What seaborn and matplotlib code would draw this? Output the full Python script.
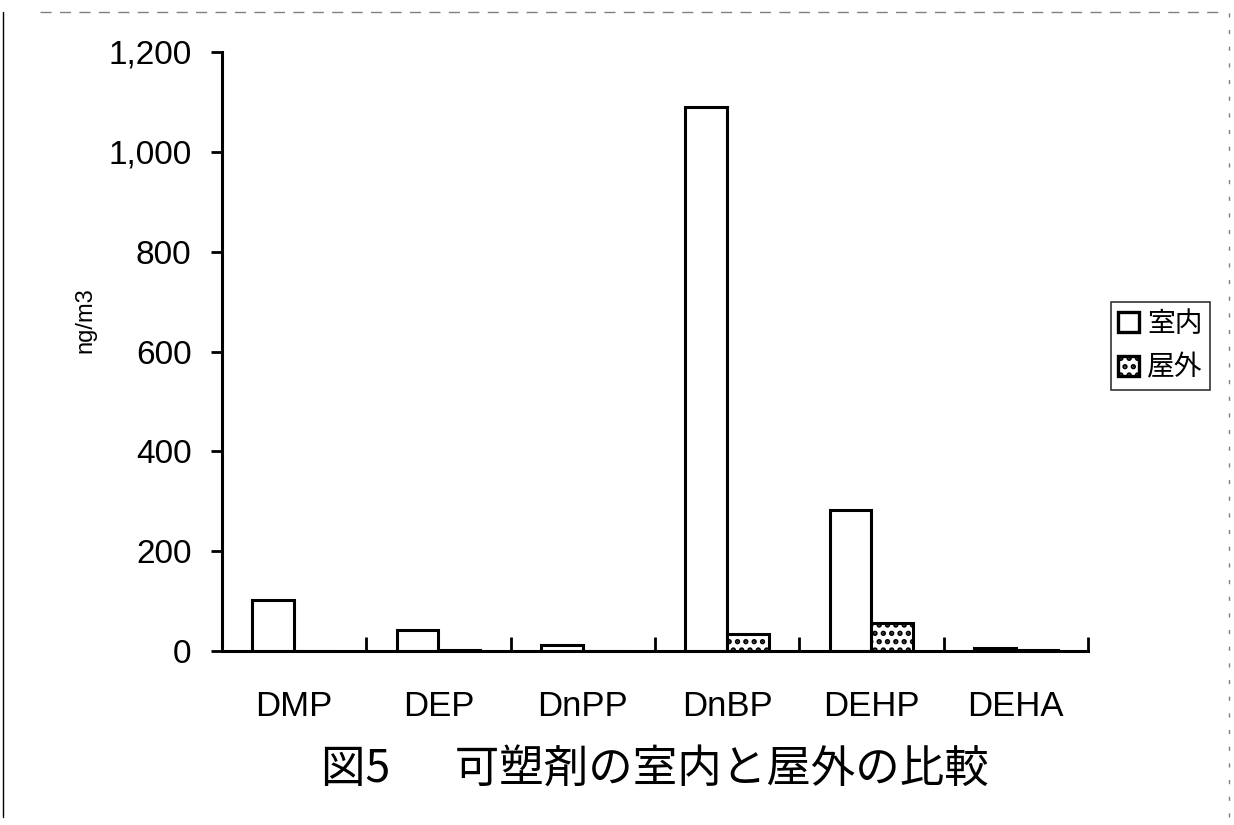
import matplotlib
matplotlib.use("Agg")
import matplotlib.pyplot as plt
from matplotlib.patches import Patch
from matplotlib.lines import Line2D
import seaborn as sns
import pandas as pd

sns.set_theme(style="white")
plt.rcParams["font.family"] = ["Liberation Sans", "Noto Sans CJK JP", "DejaVu Sans"]
plt.rcParams["text.color"] = "black"
plt.rcParams["xtick.color"] = "black"
plt.rcParams["ytick.color"] = "black"
plt.rcParams["hatch.linewidth"] = 2.6

compounds = ["DMP", "DEP", "DnPP", "DnBP", "DEHP", "DEHA"]
indoor = [102, 42, 12, 1090, 282, 7]
outdoor = [0.5, 3, 0.5, 34, 56, 3]
series_names = ["室内", "屋外"]
y_ticks = [0, 200, 400, 600, 800, 1000, 1200]
title_text = "図5　  可塑剤の室内と屋外の比較"
y_label = "ng/m3"

df = pd.DataFrame({
    "compound": compounds * 2,
    "place": [series_names[0]] * len(compounds) + [series_names[1]] * len(compounds),
    "value": indoor + outdoor,
})

fig = plt.figure(figsize=(12.34, 8.25), dpi=100)
ax = fig.add_axes([222 / 1234, 1 - 651 / 825, (1088 - 222) / 1234, (651 - 52) / 825])

sns.barplot(data=df, x="compound", y="value", hue="place", order=compounds,
            hue_order=series_names, palette=["white", "white"], width=0.58,
            gap=0, edgecolor="black", linewidth=2.2, errorbar=None, ax=ax,
            legend=False)

# dotted fill for the outdoor series
n = len(compounds)
for i, p in enumerate(ax.patches[:2 * n]):
    if i >= n:
        p.set_hatch("..")

ax.set_xlim(-0.5, len(compounds) - 0.5)
ax.set_ylim(0, 1200)
ax.set_yticks(y_ticks)
ax.set_yticklabels([f"{v:,}" for v in y_ticks], fontsize=24)
ax.set_xticks(range(len(compounds)))
ax.set_xticklabels(compounds, fontsize=25)
ax.set_xticks([i + 0.5 for i in range(len(compounds))], minor=True)
ax.tick_params(axis="x", which="major", length=0, pad=28)
ax.tick_params(axis="x", which="minor", direction="in", length=10, width=2,
               color="black", bottom=True)
ax.tick_params(axis="y", direction="out", length=8, width=2, color="black",
               left=True, pad=14)
ax.set_xlabel("")
ax.set_ylabel("")
for side in ["top", "right"]:
    ax.spines[side].set_visible(False)
for side in ["left", "bottom"]:
    ax.spines[side].set_color("black")
    ax.spines[side].set_linewidth(2.2)

fig.text(85 / 1234, 1 - 320 / 825, y_label, rotation=90, ha="center",
         va="center", fontsize=17)

handles = [
    Patch(facecolor="white", edgecolor="black", linewidth=2.4),
    Patch(facecolor="white", edgecolor="black", linewidth=2.4, hatch=".."),
]
leg = fig.legend(handles, series_names, loc="upper left",
                 bbox_to_anchor=(1111 / 1234, 1 - 302 / 825),
                 prop={"family": ["Noto Sans CJK JP"], "size": 20},
                 frameon=True, fancybox=False, handlelength=0.75,
                 handleheight=0.75, handletextpad=0.3, borderpad=0.25,
                 labelspacing=0.5, borderaxespad=0)
leg.get_frame().set_edgecolor("black")
leg.get_frame().set_linewidth(1.2)

fig.text(655 / 1234, 1 - 769 / 825, title_text, ha="center", va="center",
         fontsize=32, family=["Noto Sans CJK JP"])

# page edge lines
fig.add_artist(Line2D([3 / 1234, 3 / 1234], [0.01, 1 - 12 / 825],
                      color="black", lw=1, transform=fig.transFigure))
fig.add_artist(Line2D([40 / 1234, 1225 / 1234], [1 - 12 / 825, 1 - 12 / 825],
                      color="gray", lw=1, ls=(0, (8, 6)),
                      transform=fig.transFigure))
fig.add_artist(Line2D([1229 / 1234, 1229 / 1234], [0.01, 1 - 12 / 825],
                      color="gray", lw=1, ls=(0, (3, 9)),
                      transform=fig.transFigure))

fig.savefig("out.png", dpi=100, facecolor="white")
